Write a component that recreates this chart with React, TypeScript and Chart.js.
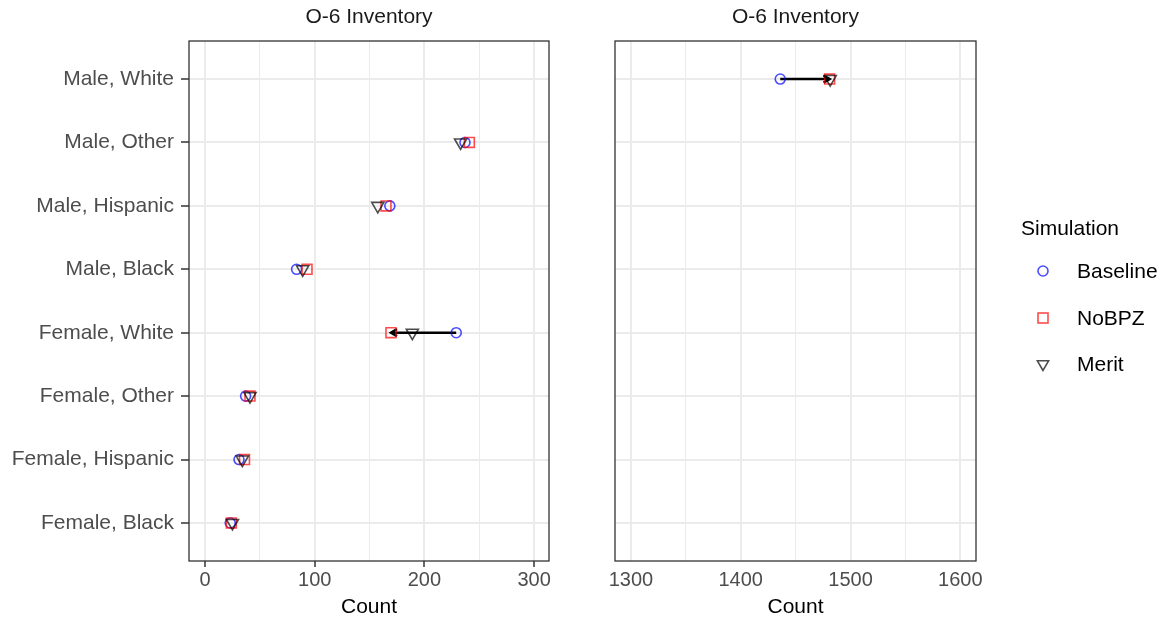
import React, { useEffect, useRef } from 'react';
import { Chart, registerables } from 'chart.js';

Chart.register(...registerables);

// ---------- data ----------
const categories = [
  'Male, White',
  'Male, Other',
  'Male, Hispanic',
  'Male, Black',
  'Female, White',
  'Female, Other',
  'Female, Hispanic',
  'Female, Black',
];
// which facet panel each category sits in (0 = left, 1 = right)
const panelOf = [1, 0, 0, 0, 0, 0, 0, 0];
const baselineValues = [1436, 237, 168.5, 83.5, 229, 37, 31, 23];
const noBPZValues = [1481, 241, 165, 93, 169.5, 41, 36, 24];
const meritValues = [1481.5, 233, 157.5, 89, 189, 41, 34, 25];
const arrowShown = [true, false, false, false, true, false, false, false];
const seriesNames = ['Baseline', 'NoBPZ', 'Merit'];
const panelTitles = ['O-6 Inventory', 'O-6 Inventory'];
const axisTitle = 'Count';
const legendTitle = 'Simulation';
const panelRanges = [
  [-14.6, 313.6],
  [1285.5, 1614.3],
];

// ---------- styles ----------
const FONT = "'Liberation Sans', Arial, Helvetica, sans-serif";
const COLORS = ['rgba(0,0,255,0.7)', 'rgba(255,0,0,0.7)', 'rgba(0,0,0,0.7)'];
const STYLES = ['circle', 'rect', 'triangle'];
const RADII = [5, 7, 7];
const ROT = [0, 0, 180];

Chart.defaults.font.family = FONT;

const borderPlugin = {
  id: 'panelBorder',
  afterDatasetsDraw(chart: any) {
    const { ctx, chartArea } = chart;
    ctx.save();
    ctx.strokeStyle = '#333333';
    ctx.lineWidth = 1.3;
    ctx.strokeRect(chartArea.left, chartArea.top, chartArea.right - chartArea.left, chartArea.bottom - chartArea.top);
    ctx.restore();
  },
};

const arrowPlugin = {
  id: 'arrowHeads',
  afterDatasetDraw(chart: any, args: any) {
    const ds = chart.data.datasets[args.index];
    if (!ds.isArrow) return;
    const pts = args.meta.data;
    if (!pts || pts.length < 2) return;
    const a = pts[0];
    const b = pts[1];
    const ang = Math.atan2(b.y - a.y, b.x - a.x);
    const len = 7;
    const spread = Math.PI / 6;
    const ctx = chart.ctx;
    ctx.save();
    ctx.beginPath();
    ctx.moveTo(b.x - len * Math.cos(ang - spread), b.y - len * Math.sin(ang - spread));
    ctx.lineTo(b.x, b.y);
    ctx.lineTo(b.x - len * Math.cos(ang + spread), b.y - len * Math.sin(ang + spread));
    ctx.strokeStyle = '#000';
    ctx.lineWidth = 2.5;
    ctx.lineJoin = 'miter';
    ctx.stroke();
    ctx.restore();
  },
};

function buildConfig(panel: number): any {
  const idx = categories.map((_, i) => i).filter((i) => panelOf[i] === panel);
  const seriesValues = [baselineValues, noBPZValues, meritValues];
  // points: Merit on top, then NoBPZ, then Baseline (dataset 0 is drawn last)
  const pointSets = [2, 1, 0].map((s) => ({
    type: 'scatter',
    label: seriesNames[s],
    data: idx.map((i) => ({ x: seriesValues[s][i], y: i })),
    pointStyle: STYLES[s],
    pointRadius: RADII[s],
    pointRotation: ROT[s],
    pointBorderColor: COLORS[s],
    pointBackgroundColor: 'rgba(0,0,0,0)',
    pointBorderWidth: 1.6,
    borderColor: COLORS[s],
    backgroundColor: 'rgba(0,0,0,0)',
    showLine: false,
  }));
  const arrowSets = idx
    .filter((i) => arrowShown[i])
    .map((i) => ({
      type: 'line',
      isArrow: true,
      label: 'arrow',
      data: [
        { x: baselineValues[i], y: i },
        { x: noBPZValues[i], y: i },
      ],
      borderColor: '#000',
      borderWidth: 2.5,
      pointRadius: 0,
      showLine: true,
      fill: false,
    }));

  const isLeft = panel === 0;
  return {
    type: 'scatter',
    data: { datasets: [...pointSets, ...arrowSets] },
    options: {
      responsive: false,
      animation: false,
      events: [],
      layout: {
        padding: isLeft
          ? { left: 0, right: 11, top: 0, bottom: 0 }
          : { left: 55, right: 188, top: 0, bottom: 0 },
      },
      plugins: {
        legend: { display: false },
        tooltip: { enabled: false },
        title: {
          display: true,
          text: panelTitles[panel],
          fullSize: false,
          color: '#1A1A1A',
          font: { size: 21, weight: 'normal', family: FONT },
          padding: { top: 5, bottom: 10.8 },
        },
      },
      scales: {
        x: {
          type: 'linear',
          position: 'bottom',
          min: panelRanges[panel][0],
          max: panelRanges[panel][1],
          afterFit: (scale: any) => {
            scale.height = 60;
          },
          border: { display: false },
          grid: {
            color: '#EBEBEB',
            lineWidth: (c: any) => (c.tick && c.tick.value % 100 === 0 ? 2 : 1),
            tickColor: (c: any) =>
              isLeft && c.tick && c.tick.value % 100 === 0 ? '#333333' : 'rgba(0,0,0,0)',
            tickWidth: 1.5,
            tickLength: 6,
          },
          ticks: {
            stepSize: 50,
            includeBounds: false,
            autoSkip: false,
            maxRotation: 0,
            padding: 1,
            color: '#4D4D4D',
            font: { size: 20, family: FONT },
            callback: (v: any) => (Number(v) % 100 === 0 ? String(v) : ''),
          },
          title: {
            display: true,
            text: axisTitle,
            color: '#000',
            font: { size: 21, family: FONT },
            padding: { top: 0, bottom: 1.4 },
          },
        },
        y: {
          type: 'linear',
          reverse: true,
          min: -0.6,
          max: 7.6,
          afterFit: (scale: any) => {
            scale.width = isLeft ? 189 : 0;
          },
          border: { display: false },
          grid: {
            color: '#EBEBEB',
            lineWidth: 2,
            drawTicks: isLeft,
            tickColor: '#333333',
            tickWidth: 1.5,
            tickLength: 8,
          },
          ticks: {
            display: isLeft,
            stepSize: 1,
            includeBounds: false,
            autoSkip: false,
            padding: 7,
            color: '#4D4D4D',
            font: { size: 21, family: FONT },
            callback: (v: any) => categories[Number(v)] ?? '',
          },
        },
      },
    },
    plugins: [arrowPlugin, borderPlugin],
  };
}

function Panel({ panel, left, width }: { panel: number; left: number; width: number }) {
  const ref = useRef<HTMLCanvasElement | null>(null);
  useEffect(() => {
    if (!ref.current) return;
    const chart = new Chart(ref.current, buildConfig(panel));
    return () => chart.destroy();
  }, [panel]);
  return (
    <canvas
      ref={ref}
      width={width}
      height={621}
      style={{ position: 'absolute', left, top: 0, width, height: 621 }}
    />
  );
}

function Marker({ kind }: { kind: number }) {
  const c = COLORS[kind];
  return (
    <svg width={20} height={20} viewBox="0 0 20 20" style={{ display: 'block' }}>
      {kind === 0 && <circle cx={10} cy={10} r={5} fill="none" stroke={c} strokeWidth={1.6} />}
      {kind === 1 && <rect x={5} y={5} width={10} height={10} fill="none" stroke={c} strokeWidth={1.6} />}
      {kind === 2 && (
        <polygon points="10,16.5 4.4,6.8 15.6,6.8" fill="none" stroke={c} strokeWidth={1.6} />
      )}
    </svg>
  );
}

export default function App() {
  const itemY = [271, 318, 364];
  return (
    <div
      style={{
        position: 'fixed',
        left: 0,
        top: 0,
        width: 1164,
        height: 621,
        background: '#fff',
        overflow: 'hidden',
        fontFamily: FONT,
      }}
    >
      <Panel panel={0} left={0} width={560} />
      <Panel panel={1} left={560} width={604} />
      <div
        style={{
          position: 'absolute',
          left: 1021,
          top: 228 - 13,
          fontSize: 21,
          lineHeight: '26px',
          color: '#000',
        }}
      >
        {legendTitle}
      </div>
      {seriesNames.map((name, s) => (
        <div key={name}>
          <div style={{ position: 'absolute', left: 1033, top: itemY[s] - 10 }}>
            <Marker kind={s} />
          </div>
          <div
            style={{
              position: 'absolute',
              left: 1077,
              top: itemY[s] - 13,
              fontSize: 21,
              lineHeight: '26px',
              color: '#000',
            }}
          >
            {name}
          </div>
        </div>
      ))}
    </div>
  );
}
